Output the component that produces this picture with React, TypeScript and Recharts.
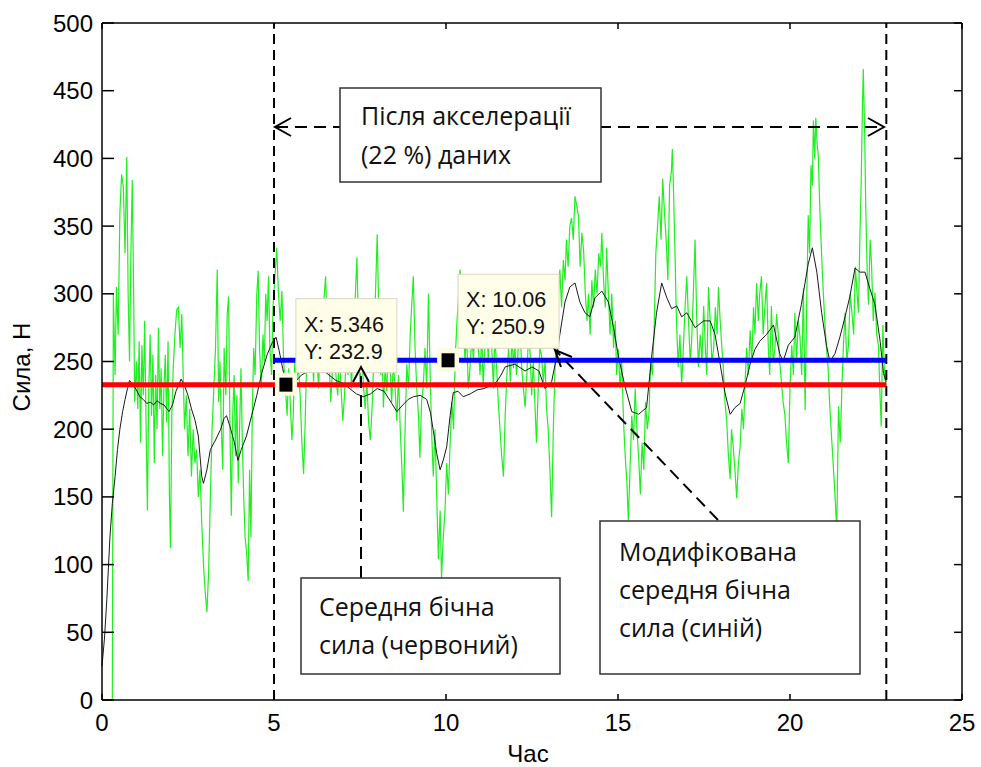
import React from 'react';
import { LineChart, Line, XAxis, YAxis, ReferenceLine, ReferenceDot } from 'recharts';

// raw lateral force samples [time, force]
const rawForce: [number, number][] = [
  [0, 0], [0.1, 0], [0.2, 0], [0.3, 0], [0.33, 300], [0.38, 240], [0.42, 305], [0.47, 270], [0.52, 360], [0.57, 388],
  [0.62, 379], [0.67, 330], [0.72, 401], [0.76, 300], [0.8, 250], [0.84, 330], [0.88, 384], [0.92, 300], [0.95, 220], [1.0, 250],
  [1.04, 215], [1.08, 265], [1.12, 190], [1.16, 262], [1.2, 225], [1.24, 280], [1.28, 205], [1.32, 140], [1.36, 230], [1.4, 270],
  [1.44, 210], [1.48, 255], [1.52, 175], [1.56, 240], [1.6, 200], [1.64, 275], [1.68, 215], [1.72, 245], [1.76, 180], [1.8, 230],
  [1.84, 255], [1.88, 205], [1.92, 265], [1.96, 150], [1.99, 112], [2.03, 210], [2.07, 245], [2.12, 270], [2.17, 288], [2.22, 290],
  [2.27, 260], [2.32, 285], [2.36, 240], [2.4, 200], [2.45, 225], [2.5, 180], [2.55, 215], [2.6, 165], [2.65, 200], [2.7, 175],
  [2.75, 185], [2.8, 150], [2.85, 170], [2.9, 130], [2.95, 100], [3.0, 80], [3.05, 65], [3.1, 95], [3.15, 150], [3.2, 200],
  [3.25, 230], [3.3, 260], [3.35, 318], [3.39, 220], [3.43, 250], [3.47, 200], [3.51, 170], [3.55, 260], [3.6, 225], [3.64, 285],
  [3.68, 298], [3.72, 200], [3.76, 136], [3.8, 210], [3.84, 240], [3.88, 180], [3.92, 225], [3.96, 160], [4.0, 200], [4.04, 245],
  [4.08, 190], [4.12, 150], [4.16, 120], [4.2, 110], [4.25, 88], [4.29, 170], [4.33, 120], [4.37, 215], [4.41, 260], [4.45, 240],
  [4.5, 300], [4.54, 317], [4.58, 260], [4.63, 230], [4.68, 270], [4.72, 250], [4.76, 300], [4.8, 280], [4.84, 313], [4.88, 260],
  [4.93, 240], [4.97, 290], [5.02, 310], [5.08, 334], [5.13, 300], [5.18, 280], [5.23, 302], [5.28, 250], [5.33, 232], [5.38, 210],
  [5.43, 245], [5.48, 215], [5.52, 192], [5.56, 210], [5.6, 250], [5.65, 235], [5.71, 246], [5.76, 225], [5.81, 190], [5.86, 167],
  [5.9, 200], [5.95, 250], [6.0, 270], [6.05, 245], [6.1, 262], [6.15, 235], [6.2, 275], [6.25, 250], [6.3, 230], [6.35, 280],
  [6.4, 260], [6.45, 295], [6.5, 313], [6.55, 270], [6.6, 250], [6.65, 220], [6.7, 245], [6.75, 270], [6.8, 240], [6.85, 225],
  [6.9, 255], [6.95, 230], [7.0, 206], [7.05, 225], [7.1, 255], [7.15, 240], [7.2, 280], [7.25, 230], [7.3, 260], [7.35, 290],
  [7.41, 327], [7.46, 270], [7.5, 232], [7.55, 260], [7.6, 232], [7.65, 215], [7.7, 235], [7.75, 205], [7.8, 192], [7.85, 215],
  [7.9, 250], [7.95, 300], [8.0, 344], [8.05, 280], [8.1, 240], [8.14, 260], [8.18, 216], [8.23, 245], [8.28, 228], [8.33, 270],
  [8.37, 248], [8.42, 220], [8.47, 250], [8.52, 230], [8.57, 206], [8.62, 240], [8.67, 200], [8.72, 170], [8.76, 139], [8.81, 200],
  [8.86, 248], [8.91, 230], [8.96, 270], [9.0, 290], [9.05, 313], [9.1, 260], [9.15, 230], [9.2, 210], [9.24, 179], [9.29, 220],
  [9.34, 232], [9.39, 260], [9.44, 230], [9.49, 300], [9.54, 240], [9.58, 200], [9.63, 165], [9.68, 200], [9.73, 150], [9.78, 104],
  [9.83, 140], [9.87, 90], [9.92, 120], [9.97, 139], [10.02, 175], [10.07, 152], [10.12, 190], [10.17, 220], [10.22, 200], [10.27, 254],
  [10.32, 280], [10.37, 300], [10.41, 318], [10.46, 300], [10.5, 286], [10.55, 250], [10.6, 270], [10.65, 230], [10.7, 246], [10.75, 270],
  [10.8, 250], [10.85, 290], [10.89, 308], [10.94, 260], [10.99, 240], [11.04, 270], [11.08, 232], [11.13, 260], [11.18, 280], [11.23, 250],
  [11.28, 300], [11.33, 260], [11.38, 230], [11.42, 270], [11.47, 246], [11.52, 220], [11.57, 200], [11.62, 180], [11.67, 165], [11.72, 210],
  [11.77, 240], [11.82, 260], [11.87, 235], [11.92, 270], [11.96, 245], [12.0, 262], [12.05, 240], [12.1, 259], [12.15, 280], [12.2, 245],
  [12.25, 230], [12.3, 216], [12.35, 240], [12.4, 270], [12.44, 259], [12.49, 225], [12.54, 250], [12.59, 215], [12.63, 190], [12.68, 230],
  [12.73, 260], [12.78, 254], [12.83, 235], [12.88, 250], [12.92, 216], [12.97, 200], [13.02, 170], [13.07, 135], [13.12, 200], [13.17, 246],
  [13.22, 280], [13.27, 300], [13.31, 318], [13.36, 290], [13.41, 325], [13.46, 310], [13.5, 340], [13.55, 320], [13.6, 350], [13.65, 356],
  [13.7, 340], [13.75, 372], [13.8, 365], [13.85, 358], [13.9, 320], [13.95, 345], [14.0, 332], [14.05, 300], [14.1, 280], [14.14, 300],
  [14.19, 270], [14.24, 310], [14.29, 290], [14.34, 318], [14.39, 300], [14.44, 330], [14.49, 320], [14.53, 345], [14.58, 310], [14.63, 290],
  [14.67, 334], [14.72, 300], [14.77, 270], [14.82, 300], [14.87, 260], [14.92, 280], [14.96, 240], [15.01, 259], [15.06, 230], [15.11, 250],
  [15.16, 206], [15.21, 180], [15.26, 160], [15.3, 133], [15.35, 170], [15.4, 210], [15.45, 192], [15.5, 230], [15.55, 200], [15.6, 179],
  [15.65, 152], [15.7, 190], [15.75, 170], [15.8, 220], [15.85, 200], [15.9, 211], [15.95, 250], [16.0, 240], [16.05, 273], [16.1, 330],
  [16.15, 350], [16.2, 372], [16.25, 340], [16.3, 385], [16.35, 360], [16.4, 340], [16.45, 310], [16.5, 380], [16.55, 390], [16.58, 407],
  [16.62, 370], [16.66, 326], [16.7, 280], [16.75, 246], [16.8, 270], [16.85, 232], [16.9, 260], [16.95, 290], [17.0, 313], [17.05, 280],
  [17.1, 250], [17.14, 265], [17.19, 300], [17.24, 340], [17.29, 280], [17.34, 246], [17.39, 270], [17.44, 250], [17.49, 291], [17.54, 260],
  [17.58, 240], [17.63, 305], [17.68, 280], [17.73, 250], [17.78, 259], [17.83, 290], [17.88, 270], [17.92, 305], [17.97, 280], [18.02, 260],
  [18.06, 246], [18.11, 220], [18.16, 206], [18.21, 180], [18.26, 163], [18.3, 200], [18.35, 187], [18.4, 170], [18.45, 149], [18.5, 175],
  [18.55, 187], [18.6, 215], [18.65, 200], [18.69, 232], [18.74, 260], [18.79, 240], [18.84, 273], [18.89, 250], [18.94, 290], [18.98, 270],
  [19.03, 308], [19.08, 280], [19.12, 300], [19.17, 313], [19.22, 270], [19.27, 290], [19.32, 308], [19.37, 260], [19.41, 240], [19.46, 291],
  [19.51, 250], [19.56, 259], [19.61, 285], [19.66, 270], [19.7, 250], [19.75, 235], [19.8, 220], [19.85, 211], [19.9, 190], [19.95, 175],
  [20.0, 230], [20.05, 262], [20.1, 240], [20.14, 286], [20.19, 250], [20.24, 280], [20.29, 268], [20.34, 240], [20.39, 304], [20.44, 214],
  [20.49, 300], [20.53, 358], [20.57, 330], [20.61, 395], [20.65, 380], [20.68, 428], [20.72, 400], [20.75, 430], [20.79, 410], [20.82, 403],
  [20.87, 360], [20.92, 328], [20.97, 300], [21.01, 280], [21.06, 260], [21.11, 244], [21.15, 220], [21.19, 202], [21.23, 185], [21.26, 172],
  [21.31, 150], [21.36, 125], [21.41, 217], [21.46, 190], [21.51, 232], [21.55, 260], [21.6, 286], [21.65, 250], [21.7, 262], [21.75, 300],
  [21.8, 286], [21.85, 270], [21.9, 320], [21.95, 300], [21.99, 286], [22.03, 340], [22.07, 383], [22.1, 430], [22.13, 466], [22.17, 420],
  [22.2, 367], [22.24, 320], [22.28, 292], [22.33, 340], [22.37, 322], [22.42, 280], [22.47, 301], [22.52, 270], [22.57, 262], [22.61, 230],
  [22.65, 202], [22.7, 277], [22.75, 238], [22.8, 232],
];

// smoothed force (black curve)
const smoothForce: [number, number][] = [
  [0, 25], [0.07, 45], [0.14, 74], [0.23, 120], [0.3, 145], [0.38, 165], [0.45, 185], [0.52, 200], [0.6, 213], [0.67, 222],
  [0.74, 230], [0.8, 236], [0.9, 233], [1.0, 229], [1.1, 224], [1.2, 222], [1.3, 219], [1.4, 220], [1.5, 218], [1.6, 221],
  [1.7, 219], [1.8, 218], [1.95, 213], [2.05, 218], [2.15, 228], [2.3, 237], [2.4, 232], [2.5, 225], [2.6, 215], [2.7, 207],
  [2.8, 195], [2.9, 165], [2.95, 160], [3.05, 170], [3.15, 185], [3.3, 192], [3.45, 200], [3.55, 208], [3.62, 210], [3.72, 202],
  [3.85, 190], [3.95, 177], [4.05, 185], [4.2, 195], [4.35, 210], [4.5, 225], [4.65, 242], [4.8, 255], [4.95, 264], [5.06, 268],
  [5.15, 258], [5.25, 245], [5.35, 233], [5.5, 230], [5.65, 236], [5.8, 240], [6.0, 243], [6.2, 246], [6.4, 244], [6.6, 240],
  [6.8, 236], [7.0, 234], [7.2, 230], [7.4, 226], [7.6, 224], [7.8, 226], [8.0, 230], [8.2, 228], [8.4, 220], [8.57, 213],
  [8.75, 218], [8.9, 222], [9.05, 224], [9.25, 225], [9.44, 222], [9.55, 212], [9.63, 199], [9.73, 182], [9.83, 170], [9.93, 178],
  [10.02, 187], [10.12, 210], [10.21, 227], [10.35, 228], [10.5, 224], [10.7, 226], [10.9, 229], [11.1, 230], [11.3, 232], [11.47, 235],
  [11.6, 240], [11.72, 246], [12.0, 248], [12.3, 243], [12.5, 246], [12.7, 243], [12.88, 230], [13.07, 235], [13.22, 254], [13.31, 270],
  [13.46, 294], [13.6, 305], [13.75, 308], [13.89, 294], [14.04, 286], [14.18, 283], [14.33, 297], [14.53, 302], [14.72, 294], [14.87, 275],
  [15.01, 254], [15.2, 232], [15.4, 213], [15.6, 211], [15.83, 216], [15.98, 254], [16.12, 286], [16.27, 308], [16.42, 297], [16.56, 289],
  [16.71, 291], [16.85, 283], [17.0, 286], [17.24, 275], [17.49, 280], [17.68, 280], [17.82, 270], [17.97, 248], [18.11, 227], [18.26, 211],
  [18.4, 216], [18.55, 219], [18.69, 232], [18.84, 248], [18.98, 259], [19.12, 265], [19.32, 270], [19.52, 277], [19.7, 256], [19.8, 250],
  [19.95, 262], [20.14, 268], [20.33, 292], [20.53, 322], [20.65, 334], [20.78, 316], [20.92, 286], [21.06, 262], [21.16, 250], [21.31, 256],
  [21.45, 268], [21.6, 283], [21.74, 298], [21.89, 319], [22.03, 316], [22.18, 316], [22.32, 304], [22.47, 292], [22.62, 265], [22.72, 241],
  [22.8, 235],
];

const meanForce = 232.9;
const modMeanForce = 250.9;
const accelStart = 5;
const dataEnd = 22.8;
const tip1 = { x: 5.346, y: 232.9 };
const tip2 = { x: 10.06, y: 250.9 };
const xTicks = [0, 5, 10, 15, 20, 25];
const yTicks = [0, 50, 100, 150, 200, 250, 300, 350, 400, 450, 500];

const rawData = rawForce.map(([t, v]) => ({ t, v }));
const smoothData = smoothForce.map(([t, v]) => ({ t, v }));

const axisFont = 'Liberation Sans, Arial, sans-serif';
const noteFont = 'Open Sans, Noto Sans, sans-serif';

const LeftTick = (props: any) => {
  const { x, y, payload } = props;
  return (
    <g>
      <line x1={x} y1={y} x2={x + 12} y2={y} stroke="#000" strokeWidth={1.5} />
      <text x={x - 9} y={y + 8.5} textAnchor="end" fontSize={24} fontFamily={axisFont} fill="#000">
        {payload.value}
      </text>
    </g>
  );
};

const BottomTick = (props: any) => {
  const { x, y, payload } = props;
  return (
    <g>
      <line x1={x} y1={y} x2={x} y2={y - 6} stroke="#000" strokeWidth={1.5} />
      <text x={x} y={y + 31} textAnchor="middle" fontSize={24} fontFamily={axisFont} fill="#000">
        {payload.value}
      </text>
    </g>
  );
};

const makeTip = (label: { x: number; y: number }) => (props: any) => {
  const { cx, cy } = props;
  const bx = cx + 10;
  const by = cy - 86;
  return (
    <g>
      <rect x={cx - 11} y={cy - 12} width={22} height={23} fill="#fffde0" />
      <rect x={cx - 6.5} y={cy - 7} width={13} height={14} fill="#000" />
      <rect x={bx} y={by} width={101} height={74} fill="#fffee8" stroke="#d9d6c0" strokeWidth={1} />
      <text x={bx + 8} y={by + 33} fontSize={21.5} fontFamily={axisFont} fill="#111">
        X: {label.x}
      </text>
      <text x={bx + 8} y={by + 60} fontSize={21.5} fontFamily={axisFont} fill="#111">
        Y: {label.y}
      </text>
    </g>
  );
};

const App = () => {
  return (
    <div style={{ position: 'absolute', left: 0, top: 0, width: 981, height: 767, background: '#fff' }}>
      <LineChart width={981} height={767} margin={{ top: 23, right: 19, bottom: 0, left: 0 }}>
        <XAxis
          dataKey="t"
          type="number"
          domain={[0, 25]}
          ticks={xTicks}
          height={67}
          tickSize={0}
          tickMargin={0}
          tickLine={false}
          axisLine={{ stroke: '#000', strokeWidth: 1.5 }}
          tick={<BottomTick />}
          interval={0}
        />
        <YAxis
          type="number"
          domain={[0, 500]}
          ticks={yTicks}
          width={102}
          tickSize={0}
          tickMargin={0}
          tickLine={false}
          axisLine={{ stroke: '#000', strokeWidth: 1.5 }}
          tick={<LeftTick />}
          interval={0}
        />
        <Line
          data={rawData}
          dataKey="v"
          type="linear"
          stroke="#22ee22"
          strokeWidth={1.2}
          dot={false}
          isAnimationActive={false}
        />
        <Line
          data={smoothData}
          dataKey="v"
          type="linear"
          stroke="#1a1a1a"
          strokeWidth={1}
          dot={false}
          isAnimationActive={false}
        />
        {/* box frame: top and right edges with inward ticks */}
        <ReferenceLine y={500} stroke="#000" strokeWidth={1.5} />
        <ReferenceLine x={25} stroke="#000" strokeWidth={1.5} />
        {xTicks.map((t) => (
          <ReferenceLine key={`tt-${t}`} segment={[{ x: t, y: 500 }, { x: t, y: 495.5 }]} stroke="#000" strokeWidth={1.5} />
        ))}
        {yTicks.map((v) => (
          <ReferenceLine key={`rt-${v}`} segment={[{ x: 25, y: v }, { x: 24.77, y: v }]} stroke="#000" strokeWidth={1.5} />
        ))}
        <ReferenceLine x={accelStart} stroke="#000" strokeWidth={2} strokeDasharray="10 6" />
        <ReferenceLine x={dataEnd} stroke="#000" strokeWidth={2} strokeDasharray="10 6" />
        <ReferenceLine
          segment={[{ x: 0, y: meanForce }, { x: dataEnd, y: meanForce }]}
          stroke="#ff0000"
          strokeWidth={5}
        />
        <ReferenceLine
          segment={[{ x: accelStart, y: modMeanForce }, { x: dataEnd, y: modMeanForce }]}
          stroke="#0000ff"
          strokeWidth={5}
        />
        <ReferenceDot x={tip1.x} y={tip1.y} r={6} shape={makeTip(tip1)} />
        <ReferenceDot x={tip2.x} y={tip2.y} r={6} shape={makeTip(tip2)} />
      </LineChart>
      <svg width={981} height={767} style={{ position: 'absolute', left: 0, top: 0, pointerEvents: 'none' }}>
        {/* axis titles */}
        <text x={30} y={367} transform="rotate(-90 30 367)" textAnchor="middle" fontSize={24} fontFamily={axisFont} fill="#000">
          Сила, Н
        </text>
        <text x={528} y={762} textAnchor="middle" fontSize={24} fontFamily={axisFont} fill="#000">
          Час
        </text>

        {/* span arrow */}
        <line x1={276} y1={127} x2={883} y2={127} stroke="#000" strokeWidth={2} strokeDasharray="12 7" />
        <polyline points="291,118 275,127 291,136" fill="none" stroke="#000" strokeWidth={2} />
        <polyline points="868,118 884,127 868,136" fill="none" stroke="#000" strokeWidth={2} />
        <rect x={340} y={88} width={261} height={94} fill="#fff" stroke="#333" strokeWidth={1.5} />
        <text x={361} y={125} fontSize={25} fontFamily={noteFont} fill="#111">Після акселерації</text>
        <text x={361} y={164} fontSize={25} fontFamily={noteFont} fill="#111">(22 %) даних</text>

        {/* red note */}
        <line x1={361} y1={578} x2={361} y2={370} stroke="#000" strokeWidth={2} strokeDasharray="12 7" />
        <polyline points="353,382 361,367 369,382" fill="none" stroke="#000" strokeWidth={2} />
        <rect x={301} y={578} width={259} height={96} fill="#fff" stroke="#333" strokeWidth={1.5} />
        <text x={319} y={616} fontSize={25} fontFamily={noteFont} fill="#111">Середня бічна</text>
        <text x={319} y={654} fontSize={25} fontFamily={noteFont} fill="#111">сила (червоний)</text>

        {/* blue note */}
        <line x1={718} y1={520} x2={557} y2={352} stroke="#000" strokeWidth={2} strokeDasharray="12 7" />
        <polyline points="561,367 555,350 572,357" fill="none" stroke="#000" strokeWidth={2} />
        <rect x={600} y={521} width={260} height={153} fill="#fff" stroke="#333" strokeWidth={1.5} />
        <text x={619} y={561} fontSize={25} fontFamily={noteFont} fill="#111">Модифікована</text>
        <text x={619} y={599} fontSize={25} fontFamily={noteFont} fill="#111">середня бічна</text>
        <text x={619} y={637} fontSize={25} fontFamily={noteFont} fill="#111">сила (синій)</text>
      </svg>
    </div>
  );
};

export default App;
